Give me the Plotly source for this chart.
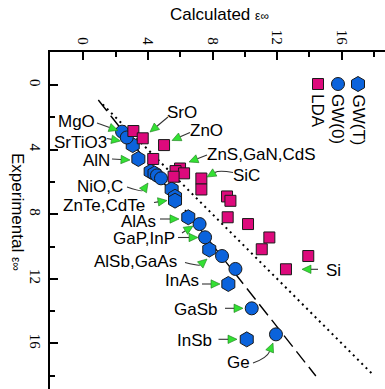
import math
import plotly.graph_objects as go

# ---------------- data (calculated vs experimental eps_inf) ----------------
gwt_calc = [3.06, 3.41, 4.17, 4.41, 5.47, 5.68, 5.68, 6.50, 7.80, 8.98, 10.12]
gwt_exp = [3.72, 4.58, 5.36, 5.48, 6.46, 6.92, 7.16, 8.19, 10.19, 12.32, 15.75]

gw0_calc = [2.40, 2.69, 4.56, 4.81, 7.20, 7.54, 8.59, 9.42, 10.43, 11.93]
gw0_exp = [2.89, 3.25, 5.60, 5.78, 8.61, 9.43, 10.59, 11.39, 13.83, 15.44]

lda_calc = [3.10, 3.68, 5.00, 4.33, 5.99, 5.71, 6.24, 5.59, 7.31, 7.31, 8.90,
            9.11, 8.94, 10.20, 11.52, 11.05, 13.93, 12.55]
lda_exp = [2.85, 3.30, 3.72, 4.58, 5.17, 5.33, 5.47, 5.68, 5.79, 6.47, 6.90,
           7.17, 8.19, 8.61, 9.44, 10.17, 10.59, 11.41]

ideal_x = [1.2, 18.0]
ideal_y = [1.2, 18.0]
fit_x = [0.93, 14.40]
fit_y = [0.93, 18.02]

tick_vals = [0, 4, 8, 12, 16]
tick_text = ["0", "4", "8", "12", "16"]

legend_names = ["GW(T)", "GW(0)", "LDA"]

# ---------------- geometry helpers (pixel -> data) ----------------
W, H = 385, 389
ML, MT = 50, 52
X0, Y0, S = 83.3, 85.0, 16.15


def X(px):
    return (px - X0) / S


def Y(py):
    return (py - Y0) / S


def PX(px):
    return (px - ML) / (W - ML)


def PY(py):
    return 1 - (py - MT) / (H - MT)


BLUE = "#0b63dc"
PINK = "#dd0a7c"
GREEN = "#33e033"
EDGE = "#1a1a1a"

fig = go.Figure()

fig.add_trace(go.Scatter(x=ideal_x, y=ideal_y, mode="lines",
                         line=dict(color="black", width=2, dash="2px,4px"),
                         hoverinfo="skip", showlegend=False))
fig.add_trace(go.Scatter(x=fit_x, y=fit_y, mode="lines",
                         line=dict(color="black", width=1.4, dash="14px,6px"),
                         hoverinfo="skip", showlegend=False))

fig.add_trace(go.Scatter(x=gwt_calc, y=gwt_exp, mode="markers", name="GW(T)",
                         marker=dict(symbol="hexagon", size=15, color=BLUE,
                                     line=dict(color=EDGE, width=1))))
fig.add_trace(go.Scatter(x=gw0_calc, y=gw0_exp, mode="markers", name="GW(0)",
                         marker=dict(symbol="circle", size=13, color=BLUE,
                                     line=dict(color=EDGE, width=1))))
fig.add_trace(go.Scatter(x=lda_calc, y=lda_exp, mode="markers", name="LDA",
                         marker=dict(symbol="square", size=11, color=PINK,
                                     line=dict(color=EDGE, width=1))))

# legend glyphs (rotated legend)
leg_px = [358, 338, 318]
leg_sym = ["hexagon", "circle", "square"]
leg_col = [BLUE, BLUE, PINK]
leg_size = [15, 13, 11]
for i in range(3):
    fig.add_trace(go.Scatter(x=[X(leg_px[i])], y=[Y(84)], mode="markers",
                             marker=dict(symbol=leg_sym[i], size=leg_size[i],
                                         color=leg_col[i],
                                         line=dict(color=EDGE, width=1)),
                             hoverinfo="skip", showlegend=False))

annotations = []
for i in range(3):
    annotations.append(dict(x=PX(leg_px[i]), y=PY(92), xref="paper", yref="paper",
                            text=legend_names[i], showarrow=False, textangle=90,
                            xanchor="center", yanchor="top",
                            font=dict(family="Liberation Sans", size=17, color="black")))

# labels (text centre in pixels)
labels = [
    ("MgO", 76.5, 121), ("SrTiO3", 80, 142), ("AlN", 96, 160),
    ("NiO,C", 100, 186), ("ZnTe,CdTe", 104, 205), ("AlAs", 138, 221),
    ("GaP,InP", 143.5, 238), ("AlSb,GaAs", 135.5, 261), ("InAs", 181.5, 280),
    ("GaSb", 195, 309), ("InSb", 194, 340), ("Ge", 238.5, 362.5),
    ("Si", 333, 270), ("SrO", 182, 112), ("ZnO", 206, 130),
    ("ZnS,GaN,CdS", 261, 154), ("SiC", 246.5, 175.5),
]
for t, px, py in labels:
    annotations.append(dict(x=X(px), y=Y(py), xref="x", yref="y", text=t,
                            showarrow=False, xanchor="center", yanchor="middle",
                            font=dict(family="Liberation Sans", size=17, color="black")))

# arrows: tail, control (or None), tip  (pixels)
arrows = [
    ((97, 123), None, (118, 130.5)),
    ((107, 138.5), None, (120.5, 141)),
    ((112, 159), None, (130, 160)),
    ((127, 187), (142, 192), (148, 183)),
    ((154, 202.5), None, (167, 200.5)),
    ((160, 219), None, (179, 219)),
    ((182, 233), None, (193, 226)),
    ((178, 237.5), None, (198, 237.5)),
    ((185, 262.5), (199, 266), (207, 259)),
    ((202, 284), None, (220, 284)),
    ((225, 308.3), None, (243, 308.3)),
    ((218.5, 339.3), None, (237, 339.3)),
    ((253, 363), (267, 358), (273, 343)),
    ((318, 269.3), None, (302, 269.3)),
    ((168, 117), None, (150, 132)),
    ((190, 132.5), None, (172, 140.5)),
    ((207, 155), None, (189, 162)),
    ((233, 172.5), (219, 170), (207, 177)),
]
shapes = []
HL, HW = 9.0, 4.2
for tail, ctrl, tip in arrows:
    ref = ctrl if ctrl else tail
    dx, dy = tip[0] - ref[0], tip[1] - ref[1]
    L = math.hypot(dx, dy)
    ux, uy = dx / L, dy / L
    bx, by = tip[0] - ux * HL, tip[1] - uy * HL
    nx, ny = -uy, ux
    if ctrl:
        path = "M %f,%f Q %f,%f %f,%f" % (X(tail[0]), Y(tail[1]), X(ctrl[0]), Y(ctrl[1]),
                                          X(bx), Y(by))
    else:
        path = "M %f,%f L %f,%f" % (X(tail[0]), Y(tail[1]), X(bx), Y(by))
    shapes.append(dict(type="path", xref="x", yref="y", path=path,
                       line=dict(color="#333333", width=1.1)))
    tri = "M %f,%f L %f,%f L %f,%f Z" % (X(tip[0]), Y(tip[1]),
                                         X(bx + nx * HW), Y(by + ny * HW),
                                         X(bx - nx * HW), Y(by - ny * HW))
    shapes.append(dict(type="path", xref="x", yref="y", path=tri,
                       fillcolor=GREEN, line=dict(color="#1f7a1f", width=0.6)))

# axis titles
annotations.append(dict(x=PX(219), y=PY(14), xref="paper", yref="paper",
                        text="Calculated <span style='font-size:12px'>ε∞</span>",
                        showarrow=False, xanchor="center", yanchor="middle",
                        font=dict(family="Liberation Sans", size=17, color="black")))
annotations.append(dict(x=PX(18), y=PY(212), xref="paper", yref="paper",
                        text="Experimental <span style='font-size:12px'>ε∞</span>",
                        showarrow=False, textangle=90, xanchor="center", yanchor="middle",
                        font=dict(family="Liberation Sans", size=17, color="black")))

axis_common = dict(
    showline=True, linecolor="black", linewidth=2, mirror=False,
    showgrid=False, zeroline=False,
    ticks="inside", ticklen=8, tickwidth=1.5, tickcolor="black",
    tickvals=tick_vals, ticktext=tick_text, tickangle=90,
    tickfont=dict(family="Liberation Serif", size=15, color="black"),
    minor=dict(dtick=2, tick0=0, ticks="inside", ticklen=5, tickwidth=1.5,
               tickcolor="black", showgrid=False),
)

fig.update_layout(
    width=W, height=H,
    margin=dict(l=ML, r=0, t=MT, b=0, pad=0),
    paper_bgcolor="white", plot_bgcolor="white",
    showlegend=False,
    xaxis=dict(side="top", range=[X(ML), X(W)], **axis_common),
    yaxis=dict(range=[Y(H), Y(MT)], **axis_common),
    annotations=annotations,
    shapes=shapes,
)

fig.write_html("out.html")
